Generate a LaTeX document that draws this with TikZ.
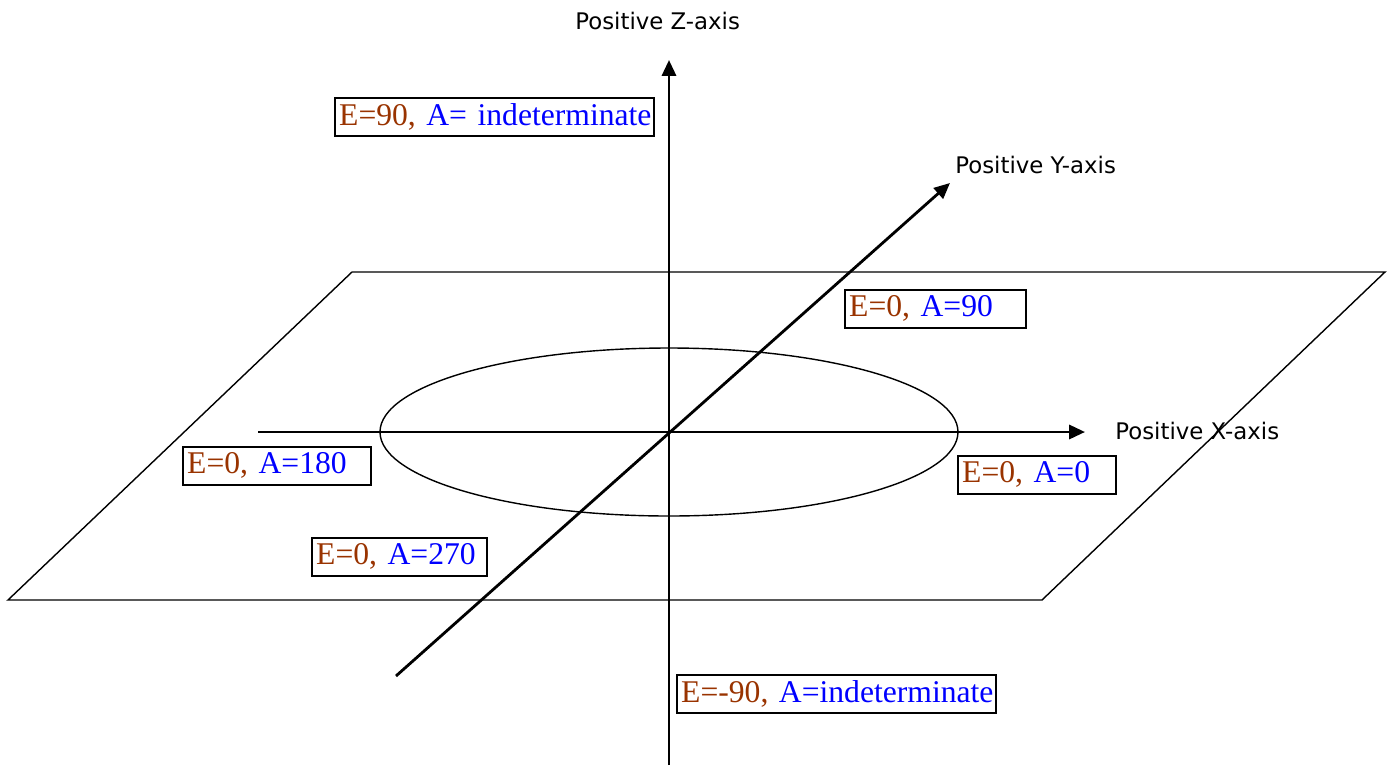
\documentclass[tikz,border=0pt]{standalone}
\usepackage{fontspec}
\usepackage{tikz}
\usetikzlibrary{arrows.meta, positioning}
\newfontfamily\axisfont{DejaVu Sans}
\newfontfamily\boxfont{Liberation Serif}
\definecolor{elevBrown}{HTML}{993300}
\definecolor{azimBlue}{HTML}{0000FF}
\newcommand{\EA}[2]{\mbox{\textcolor{elevBrown}{E=#1,} \textcolor{azimBlue}{A=#2}}}
\tikzset{
  axisArr/.style={line width=1.6pt, -{Triangle[length=9pt, width=8pt]}},
  planeLine/.style={line width=0.8pt},
  axisLbl/.style={font=\axisfont\fontsize{13}{15}\selectfont, inner sep=0pt, anchor=base west},
  eaBox/.style={draw, line width=0.9pt, font=\boxfont\fontsize{18}{21}\selectfont, anchor=north west, align=left, inner xsep=2.5pt, inner ysep=0pt, minimum height=0.76cm, text width=#1},
}

\begin{document}
\begin{tikzpicture}[x=0.02cm, y=-0.02cm]
\useasboundingbox (0,0) rectangle (1387,765);

% ground plane and circle
\draw [planeLine] (352,272) -- (1385,272) -- (1042,600) -- (8,600) -- cycle;
\draw [planeLine] (669,432) ellipse [x radius=289, y radius=84];

% axes
\coordinate (xLow) at (258,432);
\coordinate (xTip) at (1085,432);
\coordinate (yLow) at (396,676);
\coordinate (yTip) at (950,183);
\coordinate (zLow) at (669,765);
\coordinate (zTip) at (669,60);
\draw [axisArr] (xLow) -- (xTip);
\draw [axisArr] (yLow) -- (yTip);
\draw [axisArr] (zLow) -- (zTip);

\node (xLbl) [axisLbl] at (1115,439) {Positive X-axis};
\node (yLbl) [axisLbl] at (955,173) {Positive Y-axis};
\node (zLbl) [axisLbl] at (575,29) {Positive Z-axis};

% elevation / azimuth boxes
\node (up) [eaBox=6.21cm] at (334,97) {\EA{90}{ indeterminate}};
\node (a90) [eaBox=3.45cm] at (844,289) {\EA{0}{90}};
\node (a180) [eaBox=3.59cm] at (182,446) {\EA{0}{180}};
\node (a0) [eaBox=2.99cm] at (957,455) {\EA{0}{0}};
\node (a270) [eaBox=3.33cm] at (311,537) {\EA{0}{270}};
\node (down) [eaBox=6.21cm] at (676,674) {\EA{-90}{indeterminate}};
\end{tikzpicture}
\end{document}
